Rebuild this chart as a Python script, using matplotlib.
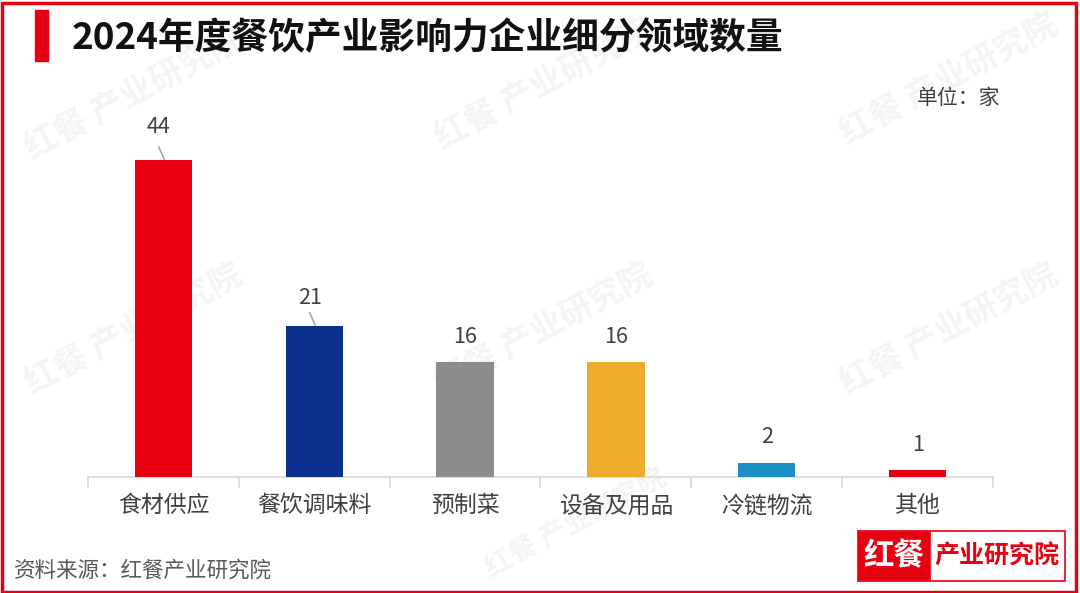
import matplotlib
matplotlib.use("Agg")
import matplotlib.pyplot as plt
from matplotlib.patches import Rectangle

plt.rcParams['font.family'] = ['Noto Sans CJK SC', 'DejaVu Sans']

categories = ["食材供应", "餐饮调味料", "预制菜", "设备及用品", "冷链物流", "其他"]
values = [44, 21, 16, 16, 2, 1]
colors = ["#E60012", "#0B2F8C", "#8C8C8C", "#EDAC2E", "#1B8EC4", "#E60012"]
title = "2024年度餐饮产业影响力企业细分领域数量"
unit = "单位：家"
source = "资料来源：红餐产业研究院"

W, H = 1080, 593
fig = plt.figure(figsize=(W / 100, H / 100), dpi=100)

# watermarks
wm_pos = [(135, 95, 24), (545, 85, 24), (950, 80, 24), (135, 330, 24), (545, 330, 24),
          (950, 330, 24), (575, 522, 20)]
for (x, y, fs) in wm_pos:
    fig.text(x / W, 1 - y / H, "红餐 产业研究院", fontsize=fs, fontweight='bold',
             color="#F4F4F4", rotation=28, ha='center', va='center', zorder=-5)

ax_left, ax_right = 88 / W, 993 / W
ax_bottom = (H - 477) / H
ymax = 50
px_per_unit = 7.2
ax_top = (H - (477 - ymax * px_per_unit)) / H
ax = fig.add_axes([ax_left, ax_bottom, ax_right - ax_left, ax_top - ax_bottom], zorder=2)
ax.patch.set_alpha(0)

x = list(range(len(categories)))
ax.bar(x, values, width=0.38, color=colors, zorder=3)
ax.set_xlim(-0.5, len(categories) - 0.5)
ax.set_ylim(0, ymax)

for s in ['top', 'right', 'left']:
    ax.spines[s].set_visible(False)
ax.spines['bottom'].set_color("#D9D9D9")
ax.spines['bottom'].set_linewidth(1.2)
ax.set_yticks([])
ax.set_xticks([i - 0.5 for i in range(len(categories) + 1)], minor=False)
ax.set_xticklabels([])
ax.tick_params(axis='x', length=8, color="#D9D9D9", width=1.2)
for i, c in enumerate(categories):
    ax.text(i, -2.4, c, ha='center', va='top', fontsize=16.5, color="#404040")

for i, v in enumerate(values):
    if v > 20:
        off = 4.6 if v > 40 else 3.9
        ax.plot([i - 0.03, i + 0.005], [v + 1.8, v + 0.15], color="#A6A6A6", lw=1.2, zorder=4)
        ax.text(i - 0.03, v + off, str(v), ha='center', va='center', fontsize=15.5, color="#404040")
    else:
        ax.text(i, v + 3.5, str(v), ha='center', va='center', fontsize=15.5, color="#404040")

# title bar
fig.patches.append(Rectangle((35 / W, 1 - 61 / H), 13 / W, 51 / H, transform=fig.transFigure,
                             color="#E60012", zorder=5))
fig.text(72 / W, 1 - 39 / H, title, fontsize=26.5, fontweight='bold', color="#111111",
         ha='left', va='center')
fig.text(1000 / W, 1 - 98 / H, unit, fontsize=15, color="#404040", ha='right', va='center')
fig.text(14 / W, 1 - 571 / H, source, fontsize=15.5, color="#595959", ha='left', va='center')

# logo
fig.patches.append(Rectangle((858 / W, 1 - 581 / H), 72 / W, 50 / H, transform=fig.transFigure,
                             facecolor="#E60012", edgecolor="#E60012", lw=1.2, zorder=5))
fig.patches.append(Rectangle((930 / W, 1 - 581 / H), 135 / W, 50 / H, transform=fig.transFigure,
                             facecolor="white", edgecolor="#E60012", lw=1.2, zorder=5))
fig.text(894 / W, 1 - 556 / H, "红餐", fontsize=22, fontweight='bold', color="white",
         ha='center', va='center', zorder=6)
fig.text(997 / W, 1 - 556 / H, "产业研究院", fontsize=18, fontweight='bold', color="#E60012",
         ha='center', va='center', zorder=6)

# border
fig.patches.append(Rectangle((1.5 / W, 1.5 / H), (W - 6) / W, (H - 4) / H, transform=fig.transFigure,
                             facecolor='none', edgecolor="#E60012", lw=2.5, zorder=10))

fig.savefig("out.png", dpi=100)
